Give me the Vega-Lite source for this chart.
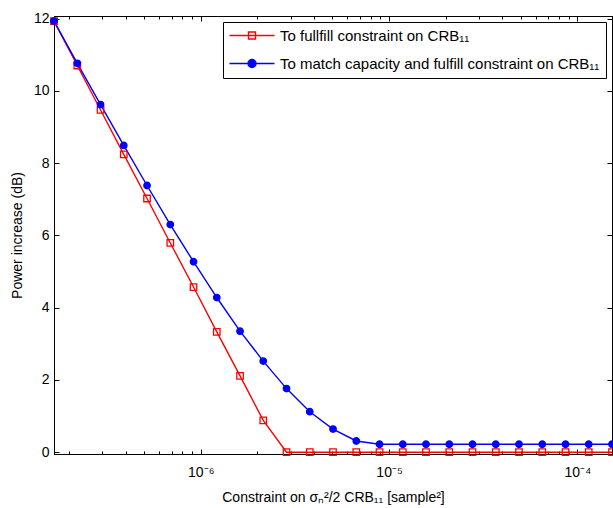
{
  "$schema": "https://vega.github.io/schema/vega-lite/v6.json",
  "width": 558,
  "height": 438,
  "autosize": {"type": "none"},
  "padding": {"left": 54, "top": 16, "right": 1, "bottom": 54},
  "background": "white",
  "config": {
    "font": "Liberation Sans",
    "view": {"stroke": "black", "strokeWidth": 1},
    "axis": {
      "domainColor": "black",
      "tickColor": "black",
      "labelColor": "black",
      "titleColor": "black",
      "labelFont": "Liberation Sans",
      "titleFont": "Liberation Sans",
      "labelFontSize": 14,
      "titleFontSize": 14,
      "titleFontWeight": "normal",
      "grid": false,
      "tickSize": -5,
      "labelFlush": false,
      "labelOverlap": false
    },
    "legend": {
      "orient": "top-right",
      "offset": 6,
      "strokeColor": "black",
      "fillColor": "white",
      "padding": 6,
      "rowPadding": 12,
      "labelFont": "Liberation Sans",
      "labelFontSize": 15,
      "labelColor": "black",
      "labelLimit": 500,
      "symbolSize": 100,
      "symbolOffset": 2,
      "labelOffset": 34,
      "symbolStrokeWidth": 1.4,
      "symbolOpacity": 1
    }
  },
  "data": {
    "values": [
      {"x": 1.663e-7, "y": 11.93, "s": "To fullfill constraint on CRB₁₁"},
      {"x": 2.211e-7, "y": 10.70, "s": "To fullfill constraint on CRB₁₁"},
      {"x": 2.938e-7, "y": 9.47, "s": "To fullfill constraint on CRB₁₁"},
      {"x": 3.903e-7, "y": 8.24, "s": "To fullfill constraint on CRB₁₁"},
      {"x": 5.187e-7, "y": 7.02, "s": "To fullfill constraint on CRB₁₁"},
      {"x": 6.893e-7, "y": 5.79, "s": "To fullfill constraint on CRB₁₁"},
      {"x": 9.158e-7, "y": 4.57, "s": "To fullfill constraint on CRB₁₁"},
      {"x": 1.217e-6, "y": 3.33, "s": "To fullfill constraint on CRB₁₁"},
      {"x": 1.617e-6, "y": 2.11, "s": "To fullfill constraint on CRB₁₁"},
      {"x": 2.148e-6, "y": 0.88, "s": "To fullfill constraint on CRB₁₁"},
      {"x": 2.855e-6, "y": 0.0, "s": "To fullfill constraint on CRB₁₁"},
      {"x": 3.793e-6, "y": 0.0, "s": "To fullfill constraint on CRB₁₁"},
      {"x": 5.040e-6, "y": 0.0, "s": "To fullfill constraint on CRB₁₁"},
      {"x": 6.699e-6, "y": 0.0, "s": "To fullfill constraint on CRB₁₁"},
      {"x": 8.901e-6, "y": 0.0, "s": "To fullfill constraint on CRB₁₁"},
      {"x": 1.183e-5, "y": 0.0, "s": "To fullfill constraint on CRB₁₁"},
      {"x": 1.571e-5, "y": 0.0, "s": "To fullfill constraint on CRB₁₁"},
      {"x": 2.088e-5, "y": 0.0, "s": "To fullfill constraint on CRB₁₁"},
      {"x": 2.775e-5, "y": 0.0, "s": "To fullfill constraint on CRB₁₁"},
      {"x": 3.687e-5, "y": 0.0, "s": "To fullfill constraint on CRB₁₁"},
      {"x": 4.899e-5, "y": 0.0, "s": "To fullfill constraint on CRB₁₁"},
      {"x": 6.510e-5, "y": 0.0, "s": "To fullfill constraint on CRB₁₁"},
      {"x": 8.650e-5, "y": 0.0, "s": "To fullfill constraint on CRB₁₁"},
      {"x": 1.149e-4, "y": 0.0, "s": "To fullfill constraint on CRB₁₁"},
      {"x": 1.527e-4, "y": 0.0, "s": "To fullfill constraint on CRB₁₁"},
      {"x": 1.663e-7, "y": 11.93, "s": "To match capacity and fulfill constraint on CRB₁₁"},
      {"x": 2.211e-7, "y": 10.76, "s": "To match capacity and fulfill constraint on CRB₁₁"},
      {"x": 2.938e-7, "y": 9.62, "s": "To match capacity and fulfill constraint on CRB₁₁"},
      {"x": 3.903e-7, "y": 8.49, "s": "To match capacity and fulfill constraint on CRB₁₁"},
      {"x": 5.187e-7, "y": 7.38, "s": "To match capacity and fulfill constraint on CRB₁₁"},
      {"x": 6.893e-7, "y": 6.30, "s": "To match capacity and fulfill constraint on CRB₁₁"},
      {"x": 9.158e-7, "y": 5.27, "s": "To match capacity and fulfill constraint on CRB₁₁"},
      {"x": 1.217e-6, "y": 4.28, "s": "To match capacity and fulfill constraint on CRB₁₁"},
      {"x": 1.617e-6, "y": 3.35, "s": "To match capacity and fulfill constraint on CRB₁₁"},
      {"x": 2.148e-6, "y": 2.52, "s": "To match capacity and fulfill constraint on CRB₁₁"},
      {"x": 2.855e-6, "y": 1.76, "s": "To match capacity and fulfill constraint on CRB₁₁"},
      {"x": 3.793e-6, "y": 1.12, "s": "To match capacity and fulfill constraint on CRB₁₁"},
      {"x": 5.040e-6, "y": 0.64, "s": "To match capacity and fulfill constraint on CRB₁₁"},
      {"x": 6.699e-6, "y": 0.31, "s": "To match capacity and fulfill constraint on CRB₁₁"},
      {"x": 8.901e-6, "y": 0.22, "s": "To match capacity and fulfill constraint on CRB₁₁"},
      {"x": 1.183e-5, "y": 0.22, "s": "To match capacity and fulfill constraint on CRB₁₁"},
      {"x": 1.571e-5, "y": 0.22, "s": "To match capacity and fulfill constraint on CRB₁₁"},
      {"x": 2.088e-5, "y": 0.22, "s": "To match capacity and fulfill constraint on CRB₁₁"},
      {"x": 2.775e-5, "y": 0.22, "s": "To match capacity and fulfill constraint on CRB₁₁"},
      {"x": 3.687e-5, "y": 0.22, "s": "To match capacity and fulfill constraint on CRB₁₁"},
      {"x": 4.899e-5, "y": 0.22, "s": "To match capacity and fulfill constraint on CRB₁₁"},
      {"x": 6.510e-5, "y": 0.22, "s": "To match capacity and fulfill constraint on CRB₁₁"},
      {"x": 8.650e-5, "y": 0.22, "s": "To match capacity and fulfill constraint on CRB₁₁"},
      {"x": 1.149e-4, "y": 0.22, "s": "To match capacity and fulfill constraint on CRB₁₁"},
      {"x": 1.527e-4, "y": 0.22, "s": "To match capacity and fulfill constraint on CRB₁₁"}
    ]
  },
  "resolve": {
    "axis": {"x": "independent", "y": "independent"},
    "scale": {"shape": "independent", "fill": "independent", "color": "independent"}
  },
  "layer": [
    {
      "mark": {"type": "line", "strokeWidth": 1.4},
      "encoding": {
        "x": {
          "field": "x", "type": "quantitative",
          "scale": {"type": "log", "domain": [1.663e-7, 1.527e-4], "nice": false},
          "axis": {
            "orient": "bottom",
            "title": "Constraint on σₙ²/2 CRB₁₁ [sample²]",
            "values": [2e-7, 3e-7, 4e-7, 5e-7, 6e-7, 7e-7, 8e-7, 9e-7, 1e-6, 2e-6, 3e-6, 4e-6, 5e-6, 6e-6, 7e-6, 8e-6, 9e-6, 1e-5, 2e-5, 3e-5, 4e-5, 5e-5, 6e-5, 7e-5, 8e-5, 9e-5, 1e-4],
            "labelExpr": "datum.value > 9.9e-7 && datum.value < 1.01e-6 ? '10⁻⁶' : (datum.value > 9.9e-6 && datum.value < 1.01e-5 ? '10⁻⁵' : (datum.value > 9.9e-5 && datum.value < 1.01e-4 ? '10⁻⁴' : ''))",
            "tickSize": {"condition": {"test": "(datum.value > 9.9e-7 && datum.value < 1.01e-6) || (datum.value > 9.9e-6 && datum.value < 1.01e-5) || (datum.value > 9.9e-5 && datum.value < 1.01e-4)", "value": -5}, "value": -3},
            "labelPadding": 16,
            "titlePadding": 9
          }
        },
        "y": {
          "field": "y", "type": "quantitative",
          "scale": {"domain": [-0.05, 12.07], "nice": false, "zero": false},
          "axis": {
            "orient": "left",
            "title": "Power increase (dB)",
            "values": [0, 2, 4, 6, 8, 10, 12],
            "labelPadding": 10,
            "titlePadding": 9
          }
        },
        "color": {
          "field": "s", "type": "nominal",
          "scale": {"domain": ["To fullfill constraint on CRB₁₁", "To match capacity and fulfill constraint on CRB₁₁"], "range": ["#ff0000", "#0000ff"]},
          "legend": null
        }
      }
    },
    {
      "mark": {"type": "point", "filled": false, "strokeWidth": 1.3, "opacity": 1},
      "encoding": {
        "x": {
          "field": "x", "type": "quantitative",
          "axis": {
            "orient": "top", "title": null, "labels": false,
            "values": [2e-7, 3e-7, 4e-7, 5e-7, 6e-7, 7e-7, 8e-7, 9e-7, 1e-6, 2e-6, 3e-6, 4e-6, 5e-6, 6e-6, 7e-6, 8e-6, 9e-6, 1e-5, 2e-5, 3e-5, 4e-5, 5e-5, 6e-5, 7e-5, 8e-5, 9e-5, 1e-4],
            "tickSize": {"condition": {"test": "(datum.value > 9.9e-7 && datum.value < 1.01e-6) || (datum.value > 9.9e-6 && datum.value < 1.01e-5) || (datum.value > 9.9e-5 && datum.value < 1.01e-4)", "value": -5}, "value": -3}
          }
        },
        "y": {
          "field": "y", "type": "quantitative",
          "axis": {"orient": "right", "title": null, "labels": false, "values": [0, 2, 4, 6, 8, 10, 12]}
        },
        "color": {
          "field": "s", "type": "nominal",
          "scale": {"domain": ["To fullfill constraint on CRB₁₁", "To match capacity and fulfill constraint on CRB₁₁"], "range": ["#ff0000", "#0000ff"]},
          "legend": null
        },
        "shape": {
          "field": "s", "type": "nominal",
          "scale": {"domain": ["To fullfill constraint on CRB₁₁", "To match capacity and fulfill constraint on CRB₁₁"], "range": ["square", "circle"]},
          "legend": null
        },
        "fill": {
          "field": "s", "type": "nominal",
          "scale": {"domain": ["To fullfill constraint on CRB₁₁", "To match capacity and fulfill constraint on CRB₁₁"], "range": ["transparent", "#0000ff"]},
          "legend": null
        },
        "size": {"value": 42}
      }
    },
    {
      "mark": {"type": "point", "filled": false, "opacity": 0},
      "encoding": {
        "x": {"field": "x", "type": "quantitative", "axis": null},
        "y": {"field": "y", "type": "quantitative", "axis": null},
        "shape": {
          "field": "s", "type": "nominal",
          "scale": {"domain": ["To fullfill constraint on CRB₁₁", "To match capacity and fulfill constraint on CRB₁₁"], "range": ["M-1.8,0H7.2M2.0,-0.7H3.4V0.7H2.0Z", "M-1.8,0H7.2M3.5,0A0.8,0.8 0 1,1 1.9,0A0.8,0.8 0 1,1 3.5,0M3.2,0A0.5,0.5 0 1,1 2.2,0A0.5,0.5 0 1,1 3.2,0M2.9,0A0.2,0.2 0 1,1 2.5,0A0.2,0.2 0 1,1 2.9,0"]},
          "legend": {"title": null}
        },
        "color": {
          "field": "s", "type": "nominal",
          "scale": {"domain": ["To fullfill constraint on CRB₁₁", "To match capacity and fulfill constraint on CRB₁₁"], "range": ["#ff0000", "#0000ff"]},
          "legend": {"title": null}
        }
      }
    }
  ]
}
